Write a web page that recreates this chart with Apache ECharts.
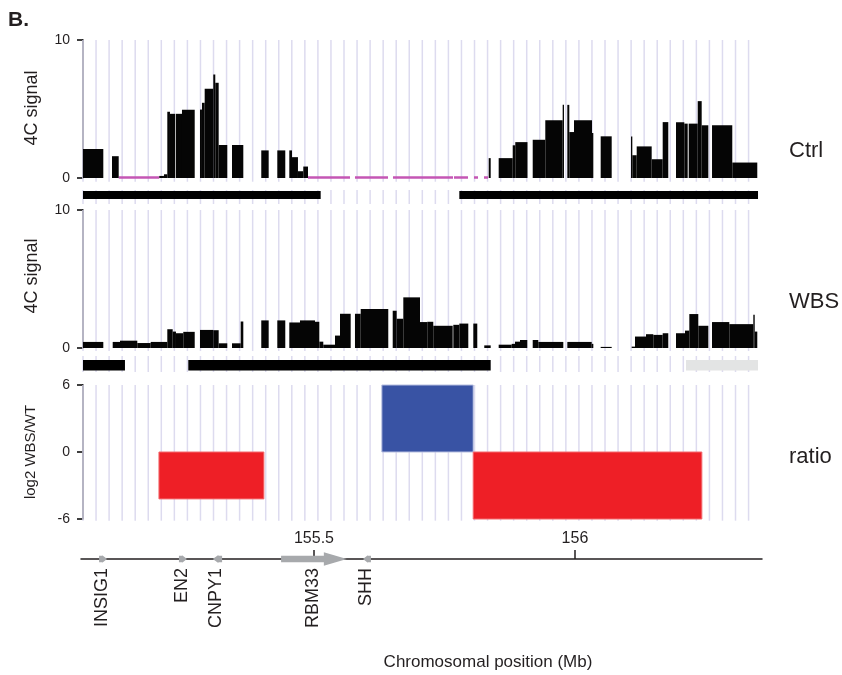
<!DOCTYPE html>
<html>
<head>
<meta charset="utf-8">
<script src="https://cdn.jsdelivr.net/npm/echarts@6/dist/echarts.min.js"></script>
<style>
  html, body { margin: 0; padding: 0; background: #ffffff; }
  #chart { width: 842px; height: 675px; }
</style>
</head>
<body>
<div id="chart"></div>
<script>
// ---- Ctrl 4C signal: bin start / end (Mb) and signal ----
const ctrlStart = [155.0575, 155.1130, 155.2036, 155.2126, 155.2190, 155.2241, 155.2356, 155.2471, 155.2816, 155.2854,
  155.2906, 155.3071, 155.3109, 155.3174, 155.3429, 155.3990, 155.4297, 155.4527, 155.4579, 155.4693,
  155.4795, 155.8347, 155.8538, 155.8807, 155.8856, 155.9190, 155.9431, 155.9764, 155.9853, 155.9891,
  155.9981, 156.0326, 156.0492, 156.1073, 156.1098, 156.1182, 156.1469, 156.1680, 156.1935, 156.2094,
  156.2178, 156.2351, 156.2427, 156.2625, 156.3013];
const ctrlEnd = [155.0964, 155.1259, 155.2126, 155.2190, 155.2241, 155.2343, 155.2471, 155.2715, 155.2854, 155.2906,
  155.3071, 155.3109, 155.3174, 155.3339, 155.3646, 155.4132, 155.4450, 155.4579, 155.4693, 155.4795,
  155.4885, 155.8385, 155.8807, 155.8856, 155.9090, 155.9431, 155.9764, 155.9789, 155.9891, 155.9981,
  156.0326, 156.0351, 156.0703, 156.1098, 156.1182, 156.1469, 156.1680, 156.1787, 156.2094, 156.2159,
  156.2351, 156.2427, 156.2554, 156.3013, 156.3492];
const ctrlValue = [2.1, 1.58, 0.15, 0.27, 4.8, 4.65, 4.65, 4.94, 4.96, 5.45,
  6.47, 7.5, 6.9, 2.39, 2.39, 2.0, 2.0, 2.0, 1.51, 0.49,
  0.83, 1.44, 1.44, 2.37, 2.6, 2.77, 4.18, 5.3, 5.3, 3.33,
  4.18, 3.26, 3.02, 3.0, 1.65, 2.29, 1.36, 4.05, 4.04, 3.94,
  3.94, 5.57, 3.82, 3.82, 1.12];

// stretches with zero Ctrl signal (drawn on the baseline)
const ctrlZeroStart = [155.1259, 155.4885, 155.5785, 155.6513, 155.7682, 155.8065, 155.8257];
const ctrlZeroEnd   = [155.2036, 155.5690, 155.6418, 155.7663, 155.7950, 155.8142, 155.8333];

// regions covered under the Ctrl track
const ctrlCovStart = [155.0575, 155.7784];
const ctrlCovEnd   = [155.5128, 156.3506];

// ---- WBS 4C signal ----
const wbsStart = [155.0575, 155.1144, 155.1284, 155.1615, 155.1872, 155.2190, 155.2293, 155.2356, 155.2496, 155.2816,
  155.3071, 155.3174, 155.3429, 155.3596, 155.3990, 155.4297, 155.4527, 155.4732, 155.5019, 155.5102,
  155.5178, 155.5402, 155.5498, 155.5785, 155.5895, 155.6508, 155.6584, 155.6711, 155.7031, 155.7170,
  155.7285, 155.7669, 155.7784, 155.8052, 155.8262, 155.8538, 155.8787, 155.8851, 155.8946, 155.9190,
  155.9297, 155.9853, 156.0320, 156.0492, 156.1086, 156.1149, 156.1360, 156.1500, 156.1680, 156.1935,
  156.2107, 156.2190, 156.2362, 156.2625, 156.2956, 156.3416, 156.3443];
const wbsEnd = [155.0964, 155.1284, 155.1615, 155.1872, 155.2190, 155.2293, 155.2356, 155.2496, 155.2715, 155.3071,
  155.3174, 155.3339, 155.3596, 155.3646, 155.4132, 155.4450, 155.4732, 155.5019, 155.5102, 155.5178,
  155.5402, 155.5498, 155.5703, 155.5895, 155.6423, 155.6584, 155.6711, 155.7031, 155.7170, 155.7285,
  155.7657, 155.7784, 155.7956, 155.8128, 155.8385, 155.8787, 155.8851, 155.8946, 155.9086, 155.9297,
  155.9776, 156.0320, 156.0351, 156.0703, 156.1149, 156.1360, 156.1500, 156.1680, 156.1787, 156.2107,
  156.2190, 156.2362, 156.2554, 156.2956, 156.3416, 156.3443, 156.3492];
const wbsValue = [0.44, 0.44, 0.53, 0.36, 0.44, 1.36, 1.19, 1.07, 1.17, 1.31,
  1.29, 0.34, 0.34, 1.92, 2.0, 2.0, 1.85, 2.0, 1.9, 0.46,
  0.24, 0.9, 2.48, 2.48, 2.82, 2.7, 2.12, 3.67, 1.88, 1.9,
  1.61, 1.68, 1.77, 1.77, 0.19, 0.24, 0.3, 0.46, 0.58, 0.58,
  0.44, 0.44, 0.3, 0.08, 0.1, 0.83, 1.0, 0.95, 1.07, 1.07,
  1.26, 2.46, 1.61, 1.88, 1.73, 2.41, 1.19];

// regions covered under the WBS track (last one only partially)
const wbsCovStart = [155.0575, 155.2592, 156.2126];
const wbsCovEnd   = [155.1379, 155.8385, 156.3506];
const wbsCovFull  = [true, true, false];

// ---- log2 WBS/WT ratio blocks ----
const ratioStart = [155.203, 155.630, 155.805];
const ratioEnd   = [155.404, 155.805, 156.243];
const ratioValue = [-4.2, 6, -6];

// ---- genes ----
const geneNames  = ['INSIG1', 'EN2', 'CNPY1', 'RBM33', 'SHH'];
const geneStart  = [155.092, 155.246, 155.306, 155.437, 155.597];
const geneEnd    = [155.100, 155.252, 155.324, 155.563, 155.606];
const geneStrand = [1, 1, -1, 1, -1];

// ---- axes ----
const positionTicks = [155.5, 156];
const signalTicks = [0, 10];
const ratioTicks = [-6, 0, 6];
const trackNames = ['Ctrl', 'WBS', 'ratio'];

const FONT = '"Liberation Sans", Arial, Helvetica, sans-serif';
const TEXT = '#231f20';
const X_MIN = 155.0575, X_MAX = 156.35;
const GRID_STEP = 0.025;
const gridPositions = [];
for (let k = 0; k < 52; k++) gridPositions.push(X_MIN + k * GRID_STEP);

const zip = (a, b, c) => a.map((v, i) => [v, b[i], c === undefined ? 0 : c[i], i]);

function rectRender(fillFor, strokeFor) {
  return function (params, api) {
    const a = api.coord([api.value(0), api.value(2)]);
    const b = api.coord([api.value(1), 0]);
    const i = params.dataIndex;
    return {
      type: 'rect',
      shape: { x: a[0], y: Math.min(a[1], b[1]), width: b[0] - a[0], height: Math.abs(b[1] - a[1]) },
      style: { fill: fillFor(i, api), stroke: strokeFor ? strokeFor(i, api) : null, lineWidth: strokeFor ? 1 : 0 }
    };
  };
}

function spanRender(yTop, yBottom, fillFor) {
  return function (params, api) {
    const a = api.coord([api.value(0), yTop]);
    const b = api.coord([api.value(1), yBottom]);
    return {
      type: 'rect',
      shape: { x: a[0], y: a[1], width: b[0] - a[0], height: b[1] - a[1] },
      style: { fill: fillFor(params.dataIndex) }
    };
  };
}

function gridRender(y0, y1) {
  return function (params, api) {
    const a = api.coord([api.value(0), y0]);
    const b = api.coord([api.value(0), y1]);
    return {
      type: 'line',
      shape: { x1: a[0], y1: a[1], x2: b[0], y2: b[1] },
      style: { stroke: '#dddbef', lineWidth: 1.5 }
    };
  };
}

function gridSeries(idx, y0, y1) {
  return {
    type: 'custom', xAxisIndex: idx, yAxisIndex: idx, silent: true, z: 1,
    data: gridPositions.map(v => [v, 0]),
    renderItem: gridRender(y0, y1)
  };
}

function geneRender(params, api) {
  const i = params.dataIndex;
  const s = api.coord([geneStart[i], 1]);
  const e = api.coord([geneEnd[i], 1]);
  let x0 = s[0], x1 = e[0];
  const y = s[1];
  const minW = 8;
  if (x1 - x0 < minW) { const c = (x0 + x1) / 2; x0 = c - minW / 2; x1 = c + minW / 2; }
  const head = Math.min(23, (x1 - x0) * 0.6);
  const bh = 3.2;
  const hh = Math.min(6.8, 3 + head * 0.17);
  let pts;
  if (geneStrand[i] > 0) {
    const xa = x1 - head;
    pts = [[x0, y - bh], [xa, y - bh], [xa, y - hh], [x1, y], [xa, y + hh], [xa, y + bh], [x0, y + bh]];
  } else {
    const xa = x0 + head;
    pts = [[x1, y - bh], [xa, y - bh], [xa, y - hh], [x0, y], [xa, y + hh], [xa, y + bh], [x1, y + bh]];
  }
  return {
    type: 'group',
    children: [
      { type: 'polygon', shape: { points: pts }, style: { fill: '#a7a9ac' } },
      {
        type: 'text', x: (x0 + x1) / 2 - 1, y: y + 9, rotation: Math.PI / 2,
        style: {
          text: geneNames[i], font: '18px ' + FONT, fill: TEXT,
          align: 'right', verticalAlign: 'middle', textAlign: 'right', textVerticalAlign: 'middle'
        }
      }
    ]
  };
}

function hiddenX(idx) {
  return { gridIndex: idx, type: 'value', min: X_MIN, max: X_MAX, show: false };
}
function signalY(idx, min, max, interval) {
  return {
    gridIndex: idx, type: 'value', min: min, max: max, interval: interval,
    axisLine: { show: true, lineStyle: { color: '#000', width: 1.5 } },
    axisTick: { show: true, length: 6, lineStyle: { color: '#000', width: 1.5 } },
    axisLabel: { fontSize: 14, fontFamily: FONT, color: TEXT, margin: 13 },
    splitLine: { show: false }
  };
}
function hiddenY(idx) {
  return { gridIndex: idx, type: 'value', min: 0, max: 1, show: false };
}

function text(str, x, y, size, opts) {
  opts = opts || {};
  return {
    type: 'text', x: x, y: y, rotation: opts.rotation || 0, silent: true,
    style: {
      text: str, font: (opts.weight || 'normal') + ' ' + size + 'px ' + FONT, fill: opts.fill || TEXT,
      align: opts.align || 'left', verticalAlign: 'middle',
      textAlign: opts.align || 'left', textVerticalAlign: 'middle'
    }
  };
}

const chart = echarts.init(document.getElementById('chart'), null, { renderer: 'canvas' });

chart.setOption({
  animation: false,
  backgroundColor: '#ffffff',
  grid: [
    { left: 83, top: 40, width: 674.7, height: 138 },   // Ctrl signal
    { left: 83, top: 190, width: 674.7, height: 14 },   // Ctrl coverage
    { left: 83, top: 210, width: 674.7, height: 138 },  // WBS signal
    { left: 83, top: 356, width: 674.7, height: 16 },   // WBS coverage
    { left: 83, top: 385, width: 674.7, height: 134 },  // ratio
    { left: 81, top: 559, width: 681, height: 60 }      // genes and position axis
  ],
  xAxis: [
    hiddenX(0), hiddenX(1), hiddenX(2), hiddenX(3), hiddenX(4),
    {
      gridIndex: 5, type: 'value', min: 155.0537, max: 156.3583, position: 'top',
      axisLine: { show: true, onZero: false, lineStyle: { color: '#231f20', width: 1.5 } },
      axisTick: { show: true, customValues: positionTicks, length: 9, lineStyle: { color: '#231f20', width: 1.5 } },
      axisLabel: { show: true, customValues: positionTicks, fontSize: 16, fontFamily: FONT, color: TEXT, margin: 12,
        formatter: v => String(v) },
      splitLine: { show: false }
    }
  ],
  yAxis: [
    signalY(0, signalTicks[0], signalTicks[1], signalTicks[1] - signalTicks[0]),
    hiddenY(1),
    signalY(2, signalTicks[0], signalTicks[1], signalTicks[1] - signalTicks[0]),
    hiddenY(3),
    signalY(4, ratioTicks[0], ratioTicks[2], ratioTicks[1] - ratioTicks[0]),
    hiddenY(5)
  ],
  series: [
    gridSeries(0, -0.27, 10),
    gridSeries(1, 0, 1),
    gridSeries(2, -0.22, 10),
    gridSeries(3, 0, 1),
    gridSeries(4, -6.15, 6),
    {
      type: 'custom', xAxisIndex: 0, yAxisIndex: 0, z: 3,
      data: zip(ctrlZeroStart, ctrlZeroEnd),
      renderItem: function (params, api) {
        const a = api.coord([api.value(0), 0]);
        const b = api.coord([api.value(1), 0]);
        return { type: 'line', shape: { x1: a[0], y1: a[1] - 0.5, x2: b[0], y2: b[1] - 0.5 },
          style: { stroke: '#c456b4', lineWidth: 2.5 } };
      }
    },
    {
      type: 'custom', xAxisIndex: 0, yAxisIndex: 0, z: 4,
      data: zip(ctrlStart, ctrlEnd, ctrlValue),
      renderItem: rectRender(() => '#050505')
    },
    {
      type: 'custom', xAxisIndex: 1, yAxisIndex: 1, z: 4,
      data: zip(ctrlCovStart, ctrlCovEnd),
      renderItem: spanRender(0.93, 0.36, () => '#000000')
    },
    {
      type: 'custom', xAxisIndex: 2, yAxisIndex: 2, z: 4,
      data: zip(wbsStart, wbsEnd, wbsValue),
      renderItem: rectRender(() => '#050505')
    },
    {
      type: 'custom', xAxisIndex: 3, yAxisIndex: 3, z: 4,
      data: zip(wbsCovStart, wbsCovEnd),
      renderItem: spanRender(0.75, 0.1, i => wbsCovFull[i] ? '#000000' : '#e3e4e4')
    },
    {
      type: 'custom', xAxisIndex: 4, yAxisIndex: 4, z: 4,
      data: zip(ratioStart, ratioEnd, ratioValue),
      renderItem: rectRender(i => ratioValue[i] > 0 ? '#3953a4' : '#ee1f26',
                             i => ratioValue[i] > 0 ? '#b7bfe0' : '#f36a6e')
    },
    {
      type: 'custom', xAxisIndex: 5, yAxisIndex: 5, z: 5,
      data: zip(geneStart, geneEnd, geneStrand),
      renderItem: geneRender
    }
  ],
  graphic: [
    text('B.', 8, 20, 21, { weight: 'bold' }),
    text('4C signal', 32, 108, 18, { rotation: Math.PI / 2, align: 'center' }),
    text('4C signal', 32, 276, 18, { rotation: Math.PI / 2, align: 'center' }),
    text('log2 WBS/WT', 31, 452, 15, { rotation: Math.PI / 2, align: 'center' }),
    text(trackNames[0], 789, 151, 22),
    text(trackNames[1], 789, 302, 22),
    text(trackNames[2], 789, 457, 22),
    text('Chromosomal position (Mb)', 488, 662, 17, { align: 'center' })
  ]
});
</script>
</body>
</html>
